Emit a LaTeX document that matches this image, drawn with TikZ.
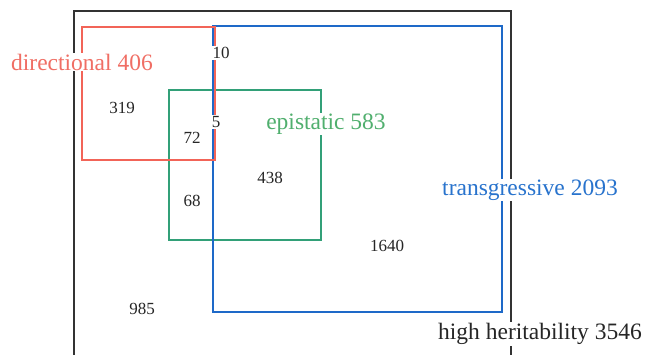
\documentclass[tikz,border=0pt]{standalone}
\usepackage{fontspec}
\setmainfont{Liberation Serif}
\definecolor{cred}{RGB}{242,100,88}
\definecolor{cblue}{RGB}{30,105,200}
\definecolor{cgreen}{RGB}{50,160,120}
\definecolor{tred}{RGB}{240,110,100}
\definecolor{tblue}{RGB}{40,115,205}
\definecolor{tgreen}{RGB}{80,175,110}
\tikzset{
  setbox/.style={line width=2.8pt},
  num/.style={font=\fontsize{17}{17}\selectfont, text=black!85, inner sep=1pt},
  numbg/.style={num, fill=white},
  setlabel/.style={font=\fontsize{23.5}{24}\selectfont, fill=white, inner sep=1pt},
}
\begin{document}
\begin{tikzpicture}[x=1pt,y=-1pt]
\useasboundingbox (0,0) rectangle (646,354);
\clip (0,0) rectangle (646,354);
\fill[white] (0,0) rectangle (646,354);
% high heritability
\draw[line width=2.4pt, black!80] (74,370) -- (74,11) -- (511,11) -- (511,370);
% green
\draw[setbox, cgreen] (169,90) rectangle (321,240);
% blue
\draw[setbox, cblue] (213,26) rectangle (502,312);
% red
\draw[setbox, cred] (82,27) rectangle (215,160);
% labels
\node[setlabel, text=tred] (dir) at (82,62) {directional 406};
\node[setlabel, text=tgreen] (epi) at (326,124) {epistatic 583};
\node[setlabel, text=tblue] (tra) at (530,190) {transgressive 2093};
\node[setlabel, text=black!85] (hh) at (540,334) {high heritability 3546};
% numbers
\node[numbg] (n10) at (221,53) {10};
\node[num] (n319) at (122,108) {319};
\node[numbg] (n5) at (216,122) {5};
\node[num] (n72) at (192,138) {72};
\node[num] (n438) at (270,178) {438};
\node[num] (n68) at (192,201) {68};
\node[num] (n1640) at (387,246) {1640};
\node[num] (n985) at (142,309) {985};
\end{tikzpicture}
\end{document}
